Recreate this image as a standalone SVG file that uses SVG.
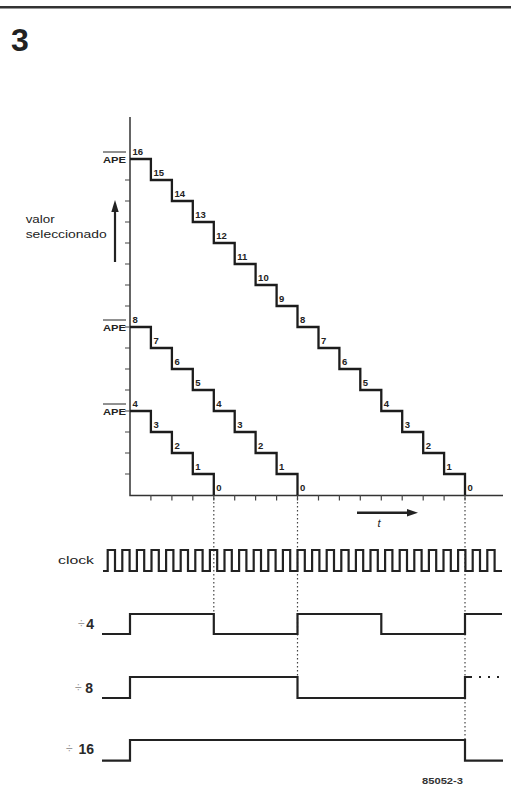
<svg xmlns="http://www.w3.org/2000/svg" width="511" height="789" viewBox="0 0 511 789">
<defs>
<style>
.bg{fill:#fff}
.lbl{font-family:"Liberation Sans",Arial,sans-serif;font-weight:bold;font-size:9.5px;fill:#222}
.ape{font-family:"Liberation Sans",Arial,sans-serif;font-weight:bold;font-size:9px;fill:#222}
.txt{font-family:"Liberation Sans",Arial,sans-serif;font-size:11.5px;fill:#222}
.div{font-family:"Liberation Sans",Arial,sans-serif;font-size:12px;fill:#999}
.num{font-family:"Liberation Sans",Arial,sans-serif;font-weight:bold;font-size:14px;fill:#2a2a2a}
.stair{fill:none;stroke:#1c1c1c;stroke-width:2.3;stroke-linejoin:miter}
.axis{fill:none;stroke:#333;stroke-width:1.5}
.tick{fill:none;stroke:#444;stroke-width:1.2}
.wave{fill:none;stroke:#222;stroke-width:2.2;stroke-linejoin:miter}
.dot{fill:none;stroke:#444;stroke-width:1.2;stroke-dasharray:1.5 2.5}
</style>
</defs>
<rect class="bg" x="0" y="0" width="511" height="789"/>
<line x1="0" y1="7.2" x2="511" y2="7.2" stroke="#333" stroke-width="2.5"/>
<text x="11" y="50.5" font-family="'Liberation Sans',Arial,sans-serif" font-weight="bold" font-size="32" fill="#222">3</text>

<g id="axes">
<path class="axis" d="M130,117 V495.5 H503"/>
<path class="tick" d="M125,180H130M125,201H130M125,222H130M125,243H130M125,264H130M125,285H130M125,306H130M125,327H130M125,348H130M125,369H130M125,390H130M125,411H130M125,432H130M125,453H130M125,474H130"/>
<path class="tick" d="M150.9,495V500.5M171.9,495V500.5M192.8,495V500.5M213.8,495V500.5M234.7,495V500.5M255.6,495V500.5M276.6,495V500.5M297.5,495V500.5M318.5,495V500.5M339.4,495V500.5M360.3,495V500.5M381.3,495V500.5M402.2,495V500.5M423.2,495V500.5M444.1,495V500.5M465,495V500.5"/>
</g>

<g id="valor-arrow">
<line x1="115" y1="262" x2="115" y2="210" stroke="#222" stroke-width="2.2"/>
<polygon points="115,200 111.3,212 118.7,212" fill="#222"/>
<text class="txt" x="25.7" y="223" textLength="29" lengthAdjust="spacingAndGlyphs">valor</text>
<text class="txt" x="25.7" y="237.7" textLength="81" lengthAdjust="spacingAndGlyphs">seleccionado</text>
</g>

<g id="ape-labels">
<text class="ape" x="103" y="163" textLength="23" lengthAdjust="spacingAndGlyphs">APE</text>
<line x1="103" y1="152" x2="126" y2="152" stroke="#222" stroke-width="1"/>
<text class="ape" x="103" y="331" textLength="23" lengthAdjust="spacingAndGlyphs">APE</text>
<line x1="103" y1="320" x2="126" y2="320" stroke="#222" stroke-width="1"/>
<text class="ape" x="103" y="415" textLength="23" lengthAdjust="spacingAndGlyphs">APE</text>
<line x1="103" y1="404" x2="126" y2="404" stroke="#222" stroke-width="1"/>
</g>

<g id="stair16">
<path class="stair" d="M130,159 H150.9 V180 H171.9 V201 H192.8 V222 H213.8 V243 H234.7 V264 H255.6 V285 H276.6 V306 H297.5 V327 H318.5 V348 H339.4 V369 H360.3 V390 H381.3 V411 H402.2 V432 H423.2 V453 H444.1 V474 H465 V495"/>
<text class="lbl" x="132.5" y="154.5">16</text>
<text class="lbl" x="153.4" y="175.5">15</text>
<text class="lbl" x="174.4" y="196.5">14</text>
<text class="lbl" x="195.3" y="217.5">13</text>
<text class="lbl" x="216.3" y="238.5">12</text>
<text class="lbl" x="237.2" y="259.5">11</text>
<text class="lbl" x="258.1" y="280.5">10</text>
<text class="lbl" x="279.1" y="301.5">9</text>
<text class="lbl" x="300" y="322.5">8</text>
<text class="lbl" x="321" y="343.5">7</text>
<text class="lbl" x="341.9" y="364.5">6</text>
<text class="lbl" x="362.8" y="385.5">5</text>
<text class="lbl" x="383.8" y="406.5">4</text>
<text class="lbl" x="404.7" y="427.5">3</text>
<text class="lbl" x="425.7" y="448.5">2</text>
<text class="lbl" x="446.6" y="469.5">1</text>
<text class="lbl" x="467.5" y="490.5">0</text>
</g>

<g id="stair8">
<path class="stair" d="M130,327 H150.9 V348 H171.9 V369 H192.8 V390 H213.8 V411 H234.7 V432 H255.6 V453 H276.6 V474 H297.5 V495"/>
<text class="lbl" x="132.5" y="322.5">8</text>
<text class="lbl" x="153.4" y="343.5">7</text>
<text class="lbl" x="174.4" y="364.5">6</text>
<text class="lbl" x="195.3" y="385.5">5</text>
<text class="lbl" x="216.3" y="406.5">4</text>
<text class="lbl" x="237.2" y="427.5">3</text>
<text class="lbl" x="258.1" y="448.5">2</text>
<text class="lbl" x="279.1" y="469.5">1</text>
<text class="lbl" x="300" y="490.5">0</text>
</g>

<g id="stair4">
<path class="stair" d="M130,411 H150.9 V432 H171.9 V453 H192.8 V474 H213.8 V495"/>
<text class="lbl" x="132.5" y="406.5">4</text>
<text class="lbl" x="153.4" y="427.5">3</text>
<text class="lbl" x="174.4" y="448.5">2</text>
<text class="lbl" x="195.3" y="469.5">1</text>
<text class="lbl" x="216.3" y="490.5">0</text>
</g>

<g id="t-arrow">
<line x1="357" y1="512.7" x2="409" y2="512.7" stroke="#222" stroke-width="2.4"/>
<polygon points="418,512.7 407,509 407,516.4" fill="#222"/>
<text x="377.5" y="527" font-family="'Liberation Sans',Arial,sans-serif" font-style="italic" font-size="11" fill="#222">t</text>
</g>

<g id="connectors">
<line class="dot" x1="213.8" y1="498" x2="213.8" y2="614"/>
<line class="dot" x1="297.5" y1="498" x2="297.5" y2="677"/>
<line class="dot" x1="465" y1="498" x2="465" y2="740"/>
</g>

<g id="clock">
<text class="txt" x="58" y="564" textLength="36" lengthAdjust="spacingAndGlyphs">clock</text>
<path class="wave" d="M103,571 H107.7 V550 H115 V571 H122.3 V550 H129.6 V571 H136.9 V550 H144.2 V571 H151.5 V550 H158.8 V571 H166.1 V550 H173.4 V571 H180.7 V550 H188 V571 H195.3 V550 H202.6 V571 H209.9 V550 H217.2 V571 H224.5 V550 H231.8 V571 H239.1 V550 H246.4 V571 H253.7 V550 H261 V571 H268.3 V550 H275.6 V571 H282.9 V550 H290.2 V571 H297.5 V550 H304.8 V571 H312.1 V550 H319.4 V571 H326.7 V550 H334 V571 H341.3 V550 H348.6 V571 H355.9 V550 H363.2 V571 H370.5 V550 H377.8 V571 H385.1 V550 H392.4 V571 H399.7 V550 H407 V571 H414.3 V550 H421.6 V571 H428.9 V550 H436.2 V571 H443.5 V550 H450.8 V571 H458.1 V550 H465.4 V571 H472.7 V550 H480 V571 H487.3 V550 H494.6 V571 H502"/>
</g>

<g id="div4">
<text class="div" x="78" y="628">÷</text>
<text class="num" x="94" y="629" text-anchor="end">4</text>
<path class="wave" d="M102,634 H130 V614 H213.8 V634 H297.5 V614 H381.3 V634 H465 V614 H502"/>
</g>

<g id="div8">
<text class="div" x="75" y="692">÷</text>
<text class="num" x="93" y="693" text-anchor="end">8</text>
<path class="wave" d="M102,698 H130 V677 H297.5 V698 H465 V677 H470"/>
<path class="wave" d="M470,677 H503" stroke-dasharray="2 7" stroke-width="1.6"/>
</g>

<g id="div16">
<text class="div" x="66" y="753">÷</text>
<text class="num" x="94" y="754" text-anchor="end">16</text>
<path class="wave" d="M102,760.7 H130 V740 H465 V760.7 H503"/>
</g>

<text x="422" y="784" font-family="'Liberation Sans',Arial,sans-serif" font-weight="bold" font-size="9.5" fill="#333" textLength="41" lengthAdjust="spacingAndGlyphs">85052-3</text>
</svg>
